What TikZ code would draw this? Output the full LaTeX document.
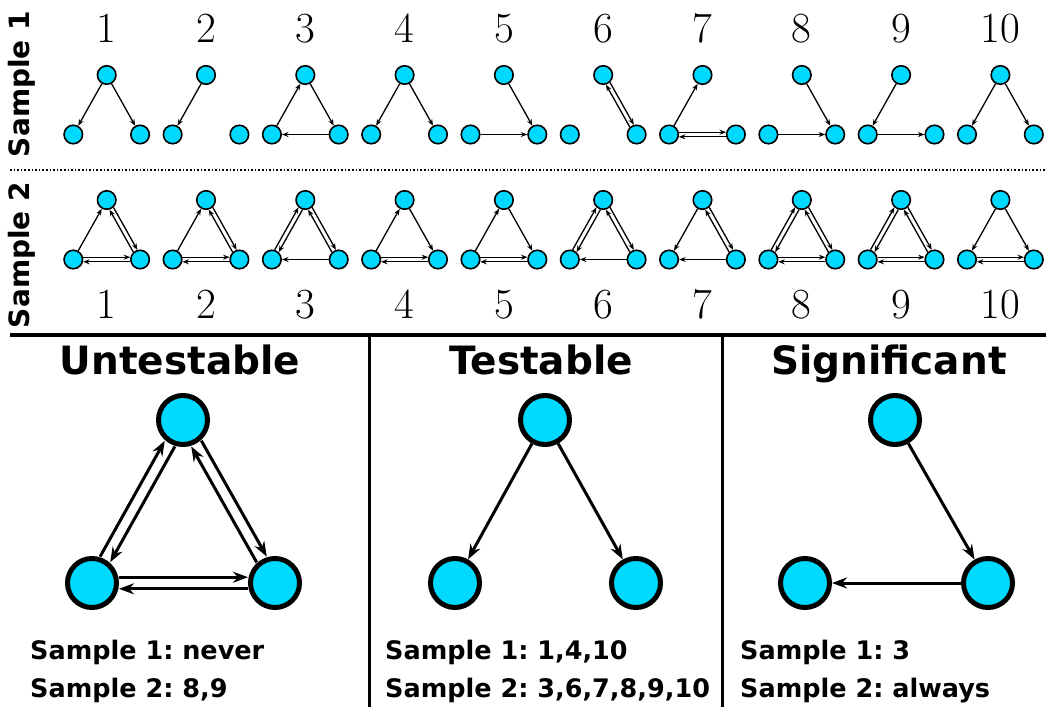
\documentclass[tikz,border=0pt]{standalone}
\usepackage{fontspec}
\newfontfamily\dvs{DejaVu Sans}
\usetikzlibrary{arrows.meta,calc}
\definecolor{nodecyan}{RGB}{0,217,255}
\frenchspacing
\newcommand{\dbl}[4]{%
  \draw[#4] ($(#1.center)!#3!90:(#2.center)$) -- ($(#2.center)!#3!-90:(#1.center)$);
  \draw[#4] ($(#2.center)!#3!90:(#1.center)$) -- ($(#1.center)!#3!-90:(#2.center)$);}
\begin{document}
\begin{tikzpicture}[x=1pt,y=-1pt,
  snode/.style={circle,draw=black,fill=nodecyan,line width=1.6pt,minimum size=18.5pt,inner sep=0pt},
  bnode/.style={circle,draw=black,fill=nodecyan,line width=5pt,minimum size=49pt,inner sep=0pt},
  sedge/.style={line width=1.3pt,-{Stealth[length=6.5pt,width=5pt]}},
  sd/.style={sedge,shorten <=9.8pt,shorten >=9.8pt},
  bedge/.style={line width=3pt,-{Stealth[length=15pt,width=11pt]}},
  bd/.style={bedge,shorten <=27pt,shorten >=27pt},
  num/.style={font=\fontsize{43}{43}\selectfont,anchor=base,inner sep=0pt},
  side/.style={font=\dvs\bfseries\fontsize{28}{28}\selectfont,rotate=90,inner sep=0pt},
  head/.style={font=\dvs\bfseries\fontsize{39}{39}\selectfont,anchor=base,inner sep=0pt},
  info/.style={font=\dvs\bfseries\fontsize{25.5}{25.5}\selectfont,anchor=base west,inner sep=0pt}]
\useasboundingbox (0,0) rectangle (1046,707);
% separators
\draw[line width=1.6pt,dotted] (10,170) -- (1046,170);
\draw[line width=3.5pt] (10,335) -- (1046,335);
\draw[line width=3pt] (369,335) -- (369,707);
\draw[line width=3pt] (722,335) -- (722,707);
% side labels
\node[side] (lab1) at (22,84) {Sample 1};
\node[side] (lab2) at (22,255) {Sample 2};
% small graphs
\foreach \i in {1,...,10}{
  \pgfmathsetmacro{\tx}{106.7+99.3*(\i-1)}
  \node[num] (n1\i) at (\tx,42) {\i};
  \node[num] (n2\i) at (\tx,318) {\i};
  \node[snode] (a\i T) at (\tx,75) {};
  \node[snode] (a\i L) at (\tx-33.4,134.5) {};
  \node[snode] (a\i R) at (\tx+33.4,134.5) {};
  \node[snode] (b\i T) at (\tx,200) {};
  \node[snode] (b\i L) at (\tx-33.4,259.5) {};
  \node[snode] (b\i R) at (\tx+33.4,259.5) {};
}
% Sample 1 edges
\draw[sedge] (a1T) -- (a1L); \draw[sedge] (a1T) -- (a1R);
\draw[sedge] (a2T) -- (a2L);
\draw[sedge] (a3L) -- (a3T); \draw[sedge] (a3T) -- (a3R); \draw[sedge] (a3R) -- (a3L);
\draw[sedge] (a4T) -- (a4L); \draw[sedge] (a4T) -- (a4R);
\draw[sedge] (a5T) -- (a5R); \draw[sedge] (a5L) -- (a5R);
\dbl{a6T}{a6R}{2.3pt}{sd}
\draw[sedge] (a7L) -- (a7T); \dbl{a7L}{a7R}{2.3pt}{sd}
\draw[sedge] (a8T) -- (a8R); \draw[sedge] (a8L) -- (a8R);
\draw[sedge] (a9T) -- (a9L); \draw[sedge] (a9L) -- (a9R);
\draw[sedge] (a10T) -- (a10L); \draw[sedge] (a10T) -- (a10R);
% Sample 2 edges
\draw[sedge] (b1L) -- (b1T); \dbl{b1T}{b1R}{2.3pt}{sd} \dbl{b1L}{b1R}{2.3pt}{sd}
\draw[sedge] (b2L) -- (b2T); \dbl{b2T}{b2R}{2.3pt}{sd} \dbl{b2L}{b2R}{2.3pt}{sd}
\dbl{b3T}{b3L}{2.3pt}{sd} \dbl{b3T}{b3R}{2.3pt}{sd} \draw[sedge] (b3R) -- (b3L);
\draw[sedge] (b4L) -- (b4T); \draw[sedge] (b4T) -- (b4R); \dbl{b4L}{b4R}{2.3pt}{sd}
\draw[sedge] (b5L) -- (b5T); \draw[sedge] (b5T) -- (b5R); \dbl{b5L}{b5R}{2.3pt}{sd}
\dbl{b6T}{b6L}{2.3pt}{sd} \dbl{b6T}{b6R}{2.3pt}{sd} \draw[sedge] (b6R) -- (b6L);
\draw[sedge] (b7T) -- (b7L); \dbl{b7T}{b7R}{2.3pt}{sd} \draw[sedge] (b7R) -- (b7L);
\dbl{b8T}{b8L}{2.3pt}{sd} \dbl{b8T}{b8R}{2.3pt}{sd} \dbl{b8L}{b8R}{2.3pt}{sd}
\dbl{b9T}{b9L}{2.3pt}{sd} \dbl{b9T}{b9R}{2.3pt}{sd} \dbl{b9L}{b9R}{2.3pt}{sd}
\draw[sedge] (b10T) -- (b10L); \draw[sedge] (b10T) -- (b10R); \dbl{b10L}{b10R}{2.3pt}{sd}
% headings
\node[head] (h1) at (180,374) {Untestable};
\node[head] (h2) at (541,374) {Testable};
\node[head] (h3) at (889,374) {Significant};
% big graphs
\node[bnode] (uT) at (183,420) {};
\node[bnode] (uL) at (92,583) {};
\node[bnode] (uR) at (275,583) {};
\dbl{uT}{uL}{5.8pt}{bd} \dbl{uT}{uR}{5.8pt}{bd} \dbl{uL}{uR}{5.8pt}{bd}
\node[bnode] (tT) at (545,420) {};
\node[bnode] (tL) at (455,583) {};
\node[bnode] (tR) at (636,583) {};
\draw[bedge] (tT) -- (tL); \draw[bedge] (tT) -- (tR);
\node[bnode] (gT) at (895,420) {};
\node[bnode] (gL) at (805,583) {};
\node[bnode] (gR) at (988,583) {};
\draw[bedge] (gT) -- (gR); \draw[bedge] (gR) -- (gL);
% info text
\node[info] (u1) at (30,659) {Sample 1: never};
\node[info] (u2) at (30,697) {Sample 2: 8,9};
\node[info] (t1) at (385,659) {Sample 1: 1,4,10};
\node[info] (t2) at (385,697) {Sample 2: 3,6,7,8,9,10};
\node[info] (g1) at (740,659) {Sample 1: 3};
\node[info] (g2) at (740,697) {Sample 2: always};
\end{tikzpicture}
\end{document}
